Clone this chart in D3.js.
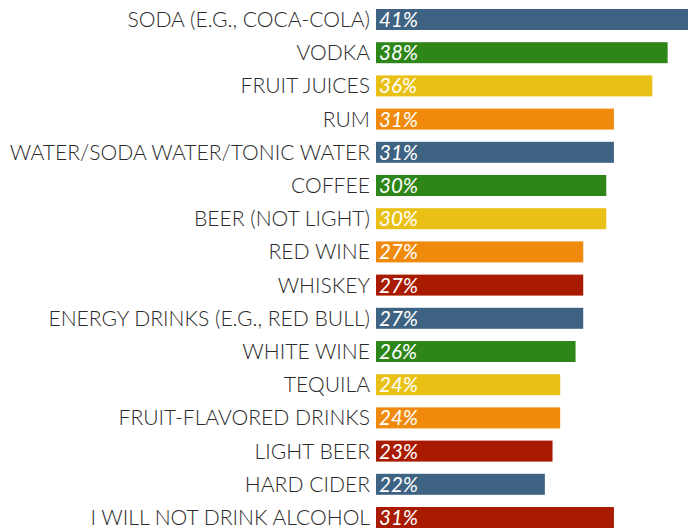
<!DOCTYPE html>
<html>
<head>
<meta charset="utf-8">
<script src="https://cdn.jsdelivr.net/npm/d3@7"></script>
<style>
  html, body { margin: 0; padding: 0; background: #fff; }
  svg { display: block; }
  .lbl { font-family: "Lato Light", "Lato", "Open Sans", sans-serif; font-weight: 300; }
  .val { font-family: "Lato", "Open Sans", sans-serif; font-weight: 400; font-style: italic; }
</style>
</head>
<body>
<svg id="chart" width="688" height="529"></svg>
<script>
// Drinks mentioned and the share of respondents choosing each
const categories = [
  "SODA (E.G., COCA-COLA)",
  "VODKA",
  "FRUIT JUICES",
  "RUM",
  "WATER/SODA WATER/TONIC WATER",
  "COFFEE",
  "BEER (NOT LIGHT)",
  "RED WINE",
  "WHISKEY",
  "ENERGY DRINKS (E.G., RED BULL)",
  "WHITE WINE",
  "TEQUILA",
  "FRUIT-FLAVORED DRINKS",
  "LIGHT BEER",
  "HARD CIDER",
  "I WILL NOT DRINK ALCOHOL"
];
const values = [41, 38, 36, 31, 31, 30, 30, 27, 27, 27, 26, 24, 24, 23, 22, 31];
const barColors = [
  "#3e6282", "#2e8619", "#e9c116", "#ef8a0c",
  "#3e6282", "#2e8619", "#e9c116", "#ef8a0c",
  "#a91b00", "#3e6282", "#2e8619", "#e9c116",
  "#ef8a0c", "#a91b00", "#3e6282", "#a91b00"
];

const rows = categories.map((c, i) => ({ name: c, value: values[i], color: barColors[i] }));

const svg = d3.select("#chart");
const left = 376;

const x = d3.scaleLinear().domain([0, 40]).range([left, left + 307]);
const y = d3.scaleBand()
  .domain(categories)
  .range([9, 528])
  .paddingInner(0.3675)
  .paddingOuter(0);

const g = svg.append("g");

const row = g.selectAll("g.row")
  .data(rows)
  .join("g")
  .attr("class", "row");

row.append("rect")
  .attr("x", x(0))
  .attr("y", d => y(d.name))
  .attr("width", d => x(d.value) - x(0))
  .attr("height", y.bandwidth())
  .attr("fill", d => d.color);

row.append("text")
  .attr("class", "lbl")
  .attr("x", x(0) - 6)
  .attr("y", d => y(d.name) + y.bandwidth() / 2 + 7.5)
  .attr("text-anchor", "end")
  .attr("font-size", 21.1)
  .attr("fill", "#2b2b2b")
  .text(d => d.name);

row.append("text")
  .attr("class", "val")
  .attr("x", x(0) + 3)
  .attr("y", d => y(d.name) + y.bandwidth() / 2 + 7.5)
  .attr("font-size", 20.5)
  .attr("fill", "#fff")
  .text(d => d.value + "%");
</script>
</body>
</html>
